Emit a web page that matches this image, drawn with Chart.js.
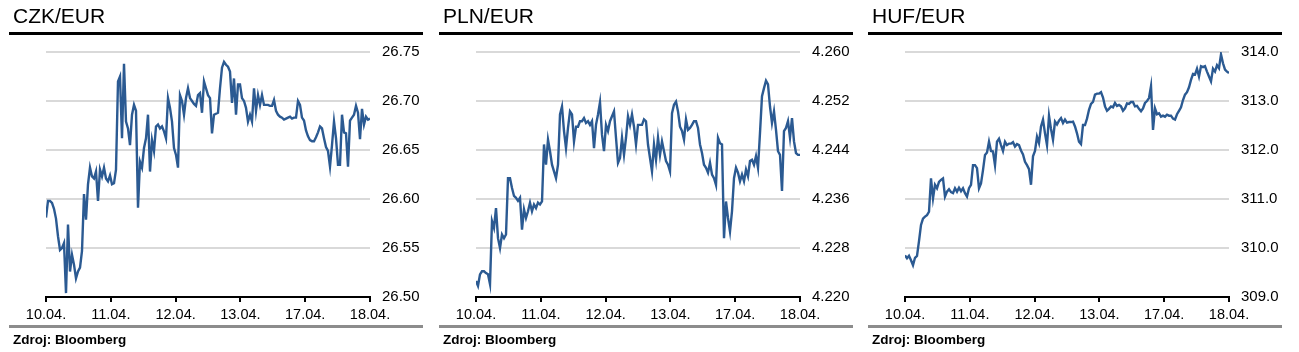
<!DOCTYPE html>
<html>
<head>
<meta charset="utf-8">
<script src="https://cdn.jsdelivr.net/npm/chart.js@4/dist/chart.umd.min.js"></script>
<style>
  html, body { margin: 0; padding: 0; background: #fff; }
  #wrap { position: relative; width: 1299px; height: 352px; overflow: hidden; font-family: 'Liberation Sans', Arial, sans-serif; }
  .panel { position: absolute; top: 0; width: 430px; height: 352px; }
  .panel canvas { position: absolute; left: 0; top: 0; }
  .title { position: absolute; left: 13px; top: 5px; font-size: 21px; line-height: 1; color: #000; white-space: nowrap; }
  .rule { position: absolute; left: 9px; top: 32px; width: 414px; height: 3px; background: #000; }
  .grey { position: absolute; left: 9px; top: 325px; width: 414px; height: 3px; background: #8c8c8c; }
  .src { position: absolute; left: 13px; top: 332.5px; font-size: 13.5px; font-weight: bold; line-height: 1; color: #000; white-space: nowrap; }
</style>
</head>
<body>
<div id="wrap">
  <div class="panel" style="left:0px"><canvas id="c1" width="430" height="352"></canvas><div class="title">CZK/EUR</div><div class="rule"></div><div class="grey"></div><div class="src">Zdroj: Bloomberg</div></div>
  <div class="panel" style="left:430px"><canvas id="c2" width="430" height="352"></canvas><div class="title">PLN/EUR</div><div class="rule"></div><div class="grey"></div><div class="src">Zdroj: Bloomberg</div></div>
  <div class="panel" style="left:859px"><canvas id="c3" width="430" height="352"></canvas><div class="title">HUF/EUR</div><div class="rule"></div><div class="grey"></div><div class="src">Zdroj: Bloomberg</div></div>
</div>
<script>
// ---- data ----
const dayLabels = ['10.04.', '11.04.', '12.04.', '13.04.', '17.04.', '18.04.'];

const czkTicks = [26.50, 26.55, 26.60, 26.65, 26.70, 26.75];
const plnTicks = [4.220, 4.228, 4.236, 4.244, 4.252, 4.260];
const hufTicks = [309.0, 310.0, 311.0, 312.0, 313.0, 314.0];

const czkValues = [
26.581,26.598,26.598,26.596,26.590,26.580,26.562,26.548,26.550,26.555,
26.504,26.574,26.526,26.543,26.533,26.519,26.526,26.530,26.547,26.605,
26.579,26.615,26.632,26.623,26.621,26.628,26.598,26.630,26.623,26.632,
26.621,26.618,26.624,26.615,26.616,26.630,26.720,26.725,26.662,26.738,
26.679,26.672,26.655,26.686,26.696,26.690,26.591,26.638,26.632,26.652,
26.662,26.686,26.628,26.660,26.649,26.674,26.676,26.672,26.674,26.669,
26.662,26.703,26.693,26.679,26.652,26.645,26.632,26.706,26.700,26.686,
26.703,26.713,26.703,26.700,26.697,26.695,26.706,26.708,26.688,26.720,
26.713,26.706,26.703,26.667,26.686,26.687,26.688,26.713,26.734,26.740,
26.737,26.735,26.730,26.698,26.723,26.686,26.717,26.717,26.703,26.700,
26.693,26.679,26.686,26.679,26.713,26.690,26.706,26.696,26.706,26.696,
26.696,26.696,26.695,26.695,26.701,26.690,26.686,26.684,26.683,26.681,
26.682,26.683,26.684,26.682,26.683,26.683,26.700,26.696,26.683,26.680,
26.670,26.664,26.660,26.659,26.659,26.663,26.668,26.674,26.672,26.662,
26.653,26.649,26.633,26.655,26.679,26.662,26.635,26.635,26.686,26.668,
26.667,26.633,26.680,26.683,26.686,26.695,26.688,26.661,26.692,26.676,
26.684,26.681,26.682];

const plnValues = [
4.2226,4.2218,4.2237,4.2242,4.2242,4.2239,4.2237,4.2221,4.2324,4.2313,
4.2345,4.2296,4.2280,4.2302,4.2296,4.2302,4.2394,4.2394,4.2378,4.2365,
4.2362,4.2357,4.2362,4.2310,4.2343,4.2329,4.2340,4.2354,4.2340,4.2351,
4.2345,4.2354,4.2351,4.2356,4.2449,4.2416,4.2457,4.2438,4.2416,4.2405,
4.2394,4.2416,4.2498,4.2511,4.2471,4.2443,4.2476,4.2503,4.2498,4.2454,
4.2478,4.2478,4.2487,4.2487,4.2492,4.2484,4.2487,4.2481,4.2487,4.2443,
4.2481,4.2498,4.2518,4.2465,4.2438,4.2481,4.2471,4.2487,4.2495,4.2503,
4.2460,4.2419,4.2427,4.2460,4.2432,4.2460,4.2495,4.2481,4.2498,4.2478,
4.2449,4.2481,4.2481,4.2481,4.2490,4.2487,4.2449,4.2427,4.2405,4.2449,
4.2424,4.2460,4.2432,4.2454,4.2438,4.2422,4.2416,4.2405,4.2500,4.2514,
4.2519,4.2503,4.2478,4.2471,4.2457,4.2490,4.2473,4.2476,4.2481,4.2487,
4.2487,4.2476,4.2449,4.2435,4.2416,4.2411,4.2403,4.2419,4.2400,4.2394,
4.2383,4.2460,4.2451,4.2449,4.2296,4.2356,4.2329,4.2307,4.2340,4.2394,
4.2411,4.2403,4.2389,4.2400,4.2389,4.2408,4.2397,4.2422,4.2424,4.2416,
4.2430,4.2411,4.2468,4.2528,4.2541,4.2553,4.2547,4.2511,4.2484,4.2503,
4.2473,4.2438,4.2432,4.2373,4.2471,4.2476,4.2487,4.2460,4.2492,4.2454,
4.2435,4.2432,4.2432];

const hufValues = [
309.85,309.79,309.84,309.75,309.65,309.80,309.84,310.14,310.47,310.60,
310.64,310.67,310.74,311.42,311.01,311.29,311.22,311.35,311.39,311.42,
311.05,311.15,311.20,311.14,311.12,311.22,311.15,311.23,311.16,311.22,
311.12,311.05,311.22,311.29,311.69,311.69,311.63,311.22,311.32,311.59,
311.90,311.95,312.17,311.98,311.97,311.69,312.17,312.23,312.10,311.98,
312.17,312.10,312.13,312.13,312.16,312.07,312.12,312.10,311.99,311.91,
311.76,311.69,311.61,311.29,311.87,311.98,312.27,312.14,312.48,312.62,
312.34,312.10,312.70,312.43,312.21,312.58,312.52,312.60,312.65,312.55,
312.62,312.56,312.57,312.57,312.58,312.48,312.34,312.17,312.12,312.51,
312.51,312.64,312.82,312.94,312.98,313.13,313.15,313.15,313.18,313.07,
312.89,312.80,312.84,312.89,312.87,312.96,312.90,312.92,312.89,312.80,
312.85,312.95,312.94,312.98,312.98,312.89,312.90,312.84,312.79,312.85,
312.96,313.00,313.06,313.30,312.41,312.85,312.73,312.75,312.68,312.70,
312.68,312.72,312.70,312.70,312.64,312.62,312.73,312.80,312.87,313.02,
313.13,313.18,313.28,313.43,313.55,313.54,313.66,313.50,313.71,313.69,
313.71,313.60,313.50,313.40,313.66,313.60,313.73,313.67,313.95,313.77,
313.64,313.60,313.57];

// ---- styling ----
const LINE_COLOR = '#2b5a92';
const GRID_COLOR = '#d9d9d9';
Chart.defaults.font.family = "'Liberation Sans', Arial, sans-serif";
Chart.defaults.color = '#000';

function makeChart(id, values, yTicks, decimals) {
  const last = values.length - 1;
  const yMin = yTicks[0], yMax = yTicks[yTicks.length - 1];
  new Chart(document.getElementById(id), {
    type: 'line',
    data: {
      datasets: [{
        data: values.map((v, i) => ({ x: i, y: v })),
        borderColor: LINE_COLOR,
        borderWidth: 2.4,
        borderJoinStyle: 'miter',
        pointRadius: 0,
        tension: 0,
        fill: false
      }]
    },
    options: {
      responsive: false,
      animation: false,
      events: [],
      layout: { padding: { left: 46, top: 52, right: 0, bottom: 0 } },
      plugins: { legend: { display: false }, tooltip: { enabled: false } },
      scales: {
        x: {
          type: 'linear',
          min: 0,
          max: last,
          afterBuildTicks: s => {
            s.ticks = dayLabels.map((d, k) => ({ value: k * last / (dayLabels.length - 1) }));
          },
          afterFit: s => { s.height = 55; },
          ticks: {
            autoSkip: false,
            maxRotation: 0,
            padding: 4,
            font: { size: 14.5 },
            callback: (v, i) => dayLabels[i]
          },
          grid: { drawOnChartArea: false, drawTicks: true, tickLength: 5, color: '#000', lineWidth: 2 },
          border: { display: true, color: '#000', width: 2 }
        },
        y: {
          position: 'right',
          min: yMin,
          max: yMax,
          afterBuildTicks: s => { s.ticks = yTicks.map(v => ({ value: v })); },
          afterFit: s => { s.width = 60; },
          ticks: {
            padding: 12,
            font: { size: 15 },
            callback: v => Number(v).toFixed(decimals)
          },
          grid: {
            drawTicks: false,
            lineWidth: 2,
            color: c => (c.tick && Math.abs(c.tick.value - yMin) < 1e-9) ? 'rgba(0,0,0,0)' : GRID_COLOR
          },
          border: { display: false }
        }
      }
    }
  });
}

makeChart('c1', czkValues, czkTicks, 2);
makeChart('c2', plnValues, plnTicks, 3);
makeChart('c3', hufValues, hufTicks, 1);
</script>
</body>
</html>
